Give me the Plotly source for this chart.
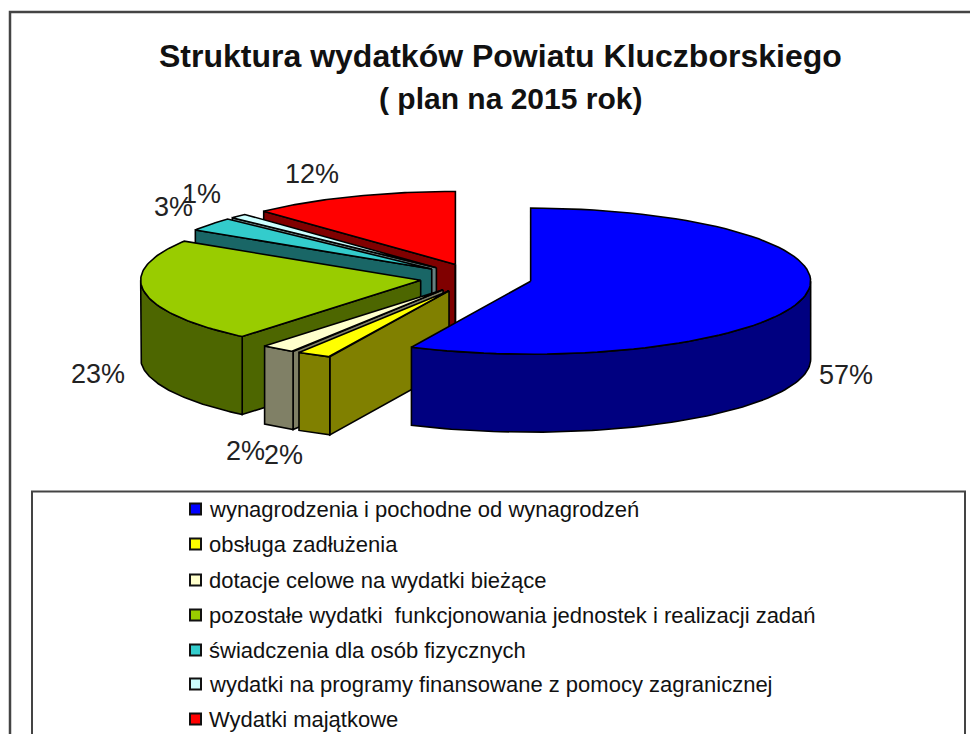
import numpy as np
import plotly.graph_objects as go

# ---- data ----
categories = ["wynagrodzenia i pochodne od wynagrodzeń", "obsługa zadłużenia",
              "dotacje celowe na wydatki bieżące",
              "pozostałe wydatki\u00a0 funkcjonowania jednostek i realizacji zadań",
              "świadczenia dla osób fizycznych",
              "wydatki na programy finansowane z pomocy zagranicznej",
              "Wydatki majątkowe"]
shares = [57, 2, 2, 23, 3, 1, 12]
top_colors = ["#0000FF", "#FFFF00", "#FFFFCC", "#99CC00", "#33CCCC", "#CCFFFF", "#FF0000"]
side_colors = ["#000080", "#808000", "#808066", "#4D6600", "#196666", "#668080", "#800000"]
title_lines = ["Struktura wydatków Powiatu Kluczborskiego", "( plan na 2015 rok)"]

# ---- geometry / style (axes are in page pixels; the page body has an 8px margin) ----
W, H, PAGE_MARGIN = 978, 734, 8
CX, CY, RX, RY = 476, 278, 280, 73
DEPTH, PULL = 78, 0.2
label_nudge = [(42, 78), (-31, 100), (-33.5, 102), (-46, 82), (-37.5, -17), (-37, -22), (-40, -23)]
draw_order = [6, 5, 4, 3, 2, 1, 0]
legend_rows = [509, 544, 580, 615, 650, 684, 719]
INK = "#111111"

fig = go.Figure()

def poly(xs, ys, fill):
    fig.add_trace(go.Scatter(x=list(xs) + [xs[0]], y=list(ys) + [ys[0]], mode="lines", fill="toself",
                             fillcolor=fill, line=dict(color="#000000", width=1.6),
                             hoverinfo="skip", showlegend=False))

edges = np.cumsum([0] + shares) / sum(shares) * 2 * np.pi
for i in draw_order:
    a0, a1 = edges[i], edges[i + 1]
    mid = (a0 + a1) / 2
    cx = CX + PULL * RX * np.sin(mid)
    cy = CY - PULL * RY * np.cos(mid)
    t = np.linspace(a0, a1, 80)
    rx_, ry_ = cx + RX * np.sin(t), cy - RY * np.cos(t)
    # leading cut face: faces the viewer only on the left half of the pie
    if np.sin(a0) < -1e-9:
        poly([cx, rx_[0], rx_[0], cx], [cy, ry_[0], ry_[0] + DEPTH, cy + DEPTH], side_colors[i])
    # outer wall (front half only)
    lo, hi = max(a0, np.pi / 2), min(a1, 3 * np.pi / 2)
    if lo < hi:
        w = np.linspace(lo, hi, 80)
        wx, wy = cx + RX * np.sin(w), cy - RY * np.cos(w)
        poly(np.r_[wx, wx[::-1]], np.r_[wy, wy[::-1] + DEPTH], side_colors[i])
    # trailing edge of the red slice reaches 12 o'clock: its wall shows as a sliver
    if abs(a1 - 2 * np.pi) < 1e-9:
        fig.add_trace(go.Scatter(x=[cx, cx], y=[cy, cy + DEPTH], mode="lines",
                                 line=dict(color="#000000", width=1.6), hoverinfo="skip", showlegend=False))
    # top
    poly(np.r_[cx, rx_], np.r_[cy, ry_], top_colors[i])

annotations = []
for i, s in enumerate(shares):
    mid = (edges[i] + edges[i + 1]) / 2
    x = CX + (1 + PULL) * RX * np.sin(mid) + label_nudge[i][0]
    y = CY - (1 + PULL) * RY * np.cos(mid) + label_nudge[i][1]
    annotations.append(dict(x=x, y=y, text=f"{s}%", showarrow=False, xref="x", yref="y",
                            font=dict(family="Liberation Sans", size=27, color="#222222")))

for line, x, y, size in zip(title_lines, [500.5, 510], [56, 98], [32, 30]):
    annotations.append(dict(x=x, y=y, text=f"<b>{line}</b>", showarrow=False, xref="x", yref="y",
                            font=dict(family="Liberation Sans", size=size, color="#111111")))

fig.add_trace(go.Scatter(x=[195.5] * len(categories), y=legend_rows, mode="markers",
                         marker=dict(symbol="square", size=11, color=top_colors,
                                     line=dict(color="#111111", width=2)),
                         hoverinfo="skip", showlegend=False))
for name, y in zip(categories, legend_rows):
    annotations.append(dict(x=207, y=y, text=name, xanchor="left", showarrow=False, xref="x", yref="y",
                            font=dict(family="Liberation Sans", size=22, color=INK)))

shapes = [
    dict(type="path", path="M10,760 L10,12 L1000,12", line=dict(color="#444444", width=2.5)),
    dict(type="path", path="M32,760 L32,491.5 L965,491.5 L965,760", line=dict(color="#444444", width=2)),
]

fig.update_layout(width=W - PAGE_MARGIN, height=H - PAGE_MARGIN, margin=dict(l=0, r=0, t=0, b=0),
                  paper_bgcolor="white", plot_bgcolor="white", annotations=annotations, shapes=shapes,
                  showlegend=False,
                  xaxis=dict(range=[PAGE_MARGIN, W], visible=False, fixedrange=True),
                  yaxis=dict(range=[H, PAGE_MARGIN], visible=False, fixedrange=True))
fig.write_html("out.html", config=dict(displayModeBar=False))
